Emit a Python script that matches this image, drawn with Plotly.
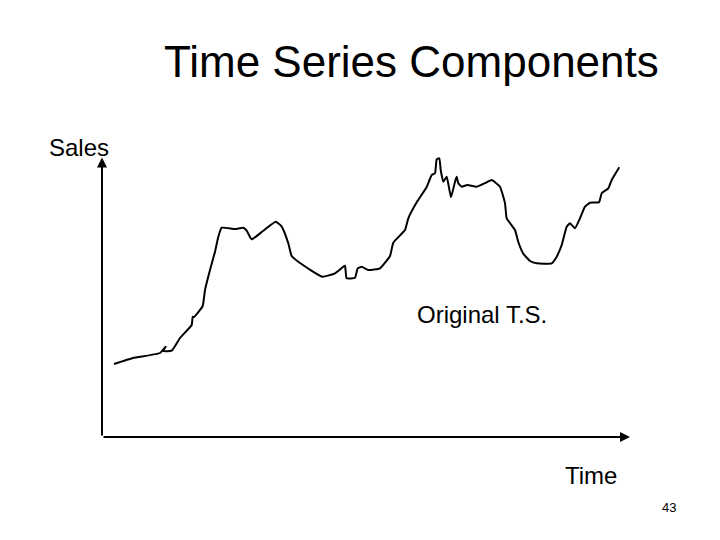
import plotly.graph_objects as go

# Hand-drawn series: time (arbitrary units from the origin) and sales level
time = [12, 31, 58, 63.7, 61, 69.7, 78, 89.7, 90.7, 92, 100.7, 103, 108, 113, 116.3, 119.7, 133,
        141.3, 144.7, 149.7, 161.3, 173.7, 179.7, 186.3, 189.7, 198, 220.3, 233, 241.3, 243,
        244.7, 253, 255.7, 259.7, 266.3, 278, 288, 291.3, 303, 306.3, 314.7, 324.7, 329.7,
        333, 334.7, 337.3, 338.7, 341.3, 344.7, 349, 353, 354.7, 356.3, 359.7, 365.3, 374.7,
        384.7, 389.7, 398, 403, 404.7, 413, 416.3, 421.3, 428, 434.7, 449.7, 454.7, 459.7,
        464.7, 468, 473, 478, 483, 488, 497, 499.7, 506.3, 509.7, 517.3]
sales = [73, 79, 84, 90.3, 86, 86.3, 99, 112, 120.3, 120, 131, 147, 167, 185.3, 200.3, 209.3, 208,
         209.3, 206.3, 197.7, 206.3, 215.3, 210.3, 193.7, 181, 174, 160.3, 163.7, 170.3, 171.3,
         158.7, 159.3, 168.7, 170.3, 167, 168.7, 181, 194.3, 207, 218.7, 234.7, 250, 262,
         263.7, 277.7, 278.7, 267, 255.3, 260.3, 239.7, 255.3, 260.3, 253.7, 250.3, 252, 250.3,
         254.7, 257, 250.3, 233.7, 218.7, 207, 195, 183.3, 176, 173.7, 173.7, 180.3, 192,
         210.3, 213.7, 208.7, 218.7, 230.3, 234.3, 234.7, 243.7, 248.7, 257, 269.7]

title_text = "Time Series Components"
y_label = "Sales"
x_label = "Time"
series_label = "Original T.S."
page_no = "43"

FONT = "Liberation Sans, Arial, sans-serif"
W, H = 712, 532   # page body has an 8px margin
OFF = 8

fig = go.Figure()
fig.add_trace(go.Scatter(x=time, y=sales, mode="lines",
                         line=dict(color="black", width=2, shape="spline", smoothing=0.4),
                         hoverinfo="skip", showlegend=False))

# Axis arrows (data coordinates)
fig.add_annotation(x=0, y=279.5, ax=0, ay=0, xref="x", yref="y", axref="x", ayref="y",
                   showarrow=True, arrowhead=2, arrowsize=1, arrowwidth=2, arrowcolor="black", text="")
fig.add_annotation(x=528, y=0, ax=0, ay=0, xref="x", yref="y", axref="x", ayref="y",
                   showarrow=True, arrowhead=2, arrowsize=1, arrowwidth=2, arrowcolor="black", text="")

def px_ann(text, px, py, size, xanchor="center"):
    fig.add_annotation(x=(px - OFF) / W, y=1 - (py - OFF) / H, xref="paper", yref="paper", text=text,
                       showarrow=False, xanchor=xanchor, yanchor="middle",
                       font=dict(family=FONT, size=size, color="black"))

px_ann(title_text, 411, 61, 44)
px_ann(y_label, 79, 148, 24)
px_ann(series_label, 482, 314, 24)
px_ann(x_label, 591, 475, 24)
px_ann(page_no, 669, 507, 13)

fig.update_layout(
    width=W, height=H,
    margin=dict(l=0, r=0, t=0, b=0),
    paper_bgcolor="white", plot_bgcolor="white",
    xaxis=dict(range=[-102 + OFF, 618], visible=False, fixedrange=True),
    yaxis=dict(range=[-103, 437 - OFF], visible=False, fixedrange=True),
)
fig.write_html("out.html")
